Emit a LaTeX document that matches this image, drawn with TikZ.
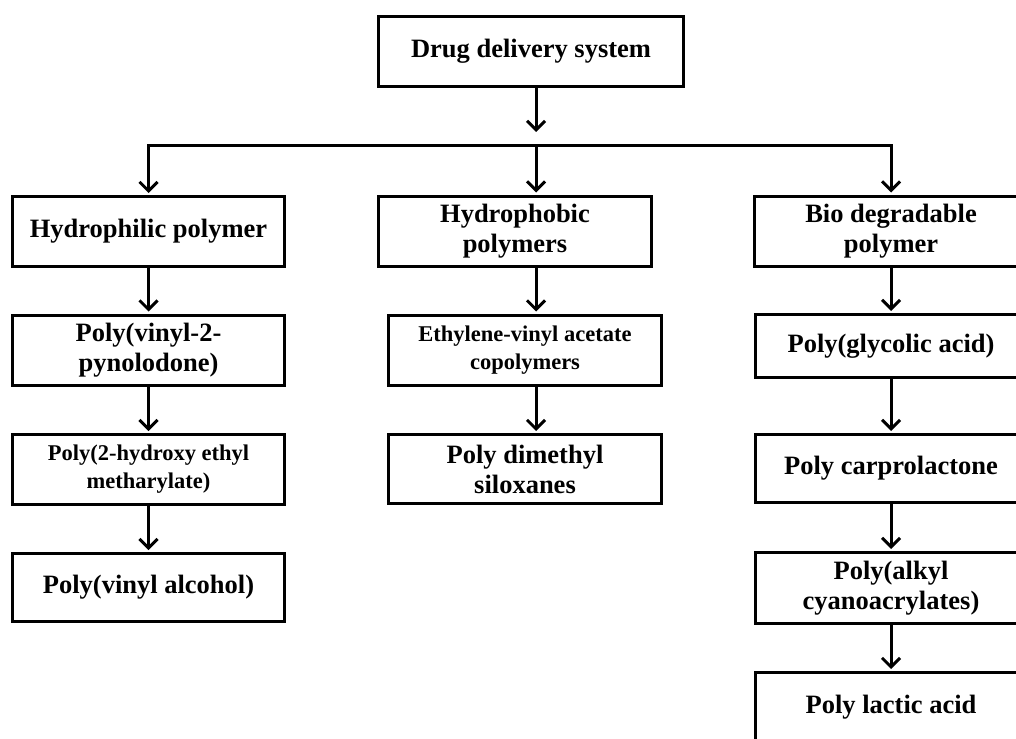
\documentclass[tikz,border=0pt]{standalone}
\usepackage{fontspec}
\setmainfont{Liberation Serif}
\usetikzlibrary{arrows.meta}

\tikzset{
  box/.style={draw, line width=3pt, minimum width=272pt, minimum height=70pt,
    inner sep=0pt, align=center, font=\bfseries\fontsize{26.5}{30}\selectfont},
  smalltext/.style={font=\bfseries\fontsize{22.5}{28}\selectfont},
  arr/.style={line width=3pt, shorten >=2pt, -{Straight Barb[length=9pt,width=18pt]}}
}

\begin{document}
\begin{tikzpicture}[x=1pt,y=-1pt]
            \useasboundingbox (0,0) rectangle (1016,738);
            \clip (0,0) rectangle (1016,738);
            \node[box, minimum width=305pt] (dds) at (531,51.5) {Drug delivery system};
            \coordinate (stop) at (536,132);
            \coordinate (split) at (536,146);

            \node[box] (hphil) at (148.5,231.5) {Hydrophilic polymer};
            \node[box] (pvp) at (148.5,350) {Poly(vinyl-2-\\pynolodone)};
            \node[box, smalltext] (phema) at (148.5,469.5) {Poly(2-hydroxy ethyl\\metharylate)};
            \node[box, minimum height=68pt] (pva) at (148.5,587.5) {Poly(vinyl alcohol)};

            \node[box, minimum width=273pt] (hphob) at (515,231) {Hydrophobic\\polymers};
            \node[box, minimum width=273pt, smalltext] (eva) at (525,350) {Ethylene-vinyl acetate\\copolymers};
            \node[box, minimum width=273pt, minimum height=69pt] (pdms) at (525,469) {Poly dimethyl\\siloxanes};

            \node[box, minimum width=273pt] (bio) at (891,231) {Bio degradable\\polymer};
            \node[box, minimum height=63pt] (pga) at (891,346) {Poly(glycolic acid)};
            \node[box, minimum height=68pt] (pcl) at (891,468.5) {Poly carprolactone};
            \node[box, minimum height=71pt] (pacr) at (891,588) {Poly(alkyl\\cyanoacrylates)};
            \node[box] (pla) at (891,707.5) {Poly lactic acid};

            \draw[arr, shorten >=0pt] (dds.south -| stop) -- (stop);
            \draw[arr] (split) -| (hphil.north);
            \draw[arr] (split) -| (bio.north);
            \draw[arr] (split) -- (split |- hphob.north);

            \draw[arr] (hphil) -- (pvp);
            \draw[arr] (pvp) -- (phema);
            \draw[arr] (phema) -- (pva);
            \draw[arr] (hphob.south -| split) -- (eva.north -| split);
            \draw[arr] (eva.south -| split) -- (pdms.north -| split);
            \foreach \a/\b in {bio/pga, pga/pcl, pcl/pacr, pacr/pla} {
                \draw[arr] (\a) -- (\b);
            }
        \end{tikzpicture}
\end{document}
